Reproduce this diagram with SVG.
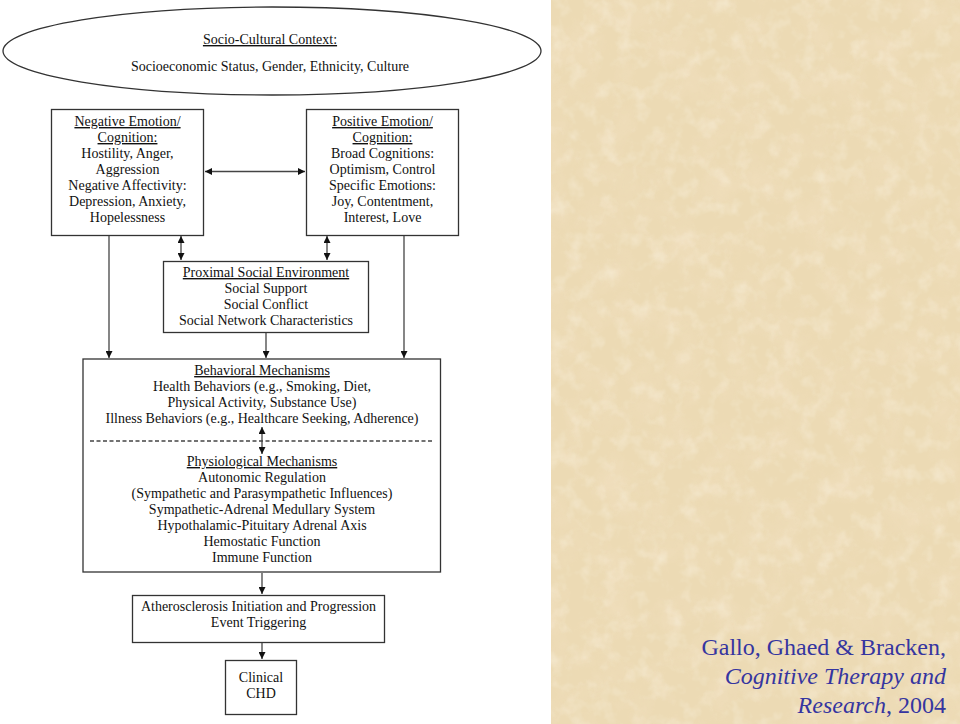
<svg xmlns="http://www.w3.org/2000/svg" width="960" height="724" viewBox="0 0 960 724">
<defs>
<style>
.box{fill:#fff;stroke:#333;stroke-width:1.3}
.t{font-family:"Liberation Serif","Times New Roman",serif;font-size:14px;fill:#111;text-anchor:middle}
.u{text-decoration:underline}
.ln{stroke:#444;stroke-width:1.3;fill:none}
.ref{font-family:"Liberation Serif","Times New Roman",serif;font-size:24px;fill:#3535a0;text-anchor:end}
</style>
<marker id="ah" viewBox="0 0 10 10" refX="10" refY="5" markerWidth="7" markerHeight="7" orient="auto-start-reverse" markerUnits="userSpaceOnUse">
<path d="M0,0 L10,5 L0,10 z" fill="#111"/>
</marker>
<filter id="paper" x="0" y="0" width="100%" height="100%">
<feTurbulence type="fractalNoise" baseFrequency="0.03" numOctaves="4" seed="7" result="n"/>
<feColorMatrix in="n" type="matrix" values="0 0 0 0 0.88  0 0 0 0 0.74  0 0 0 0 0.52  0 0 0 2 -0.85" result="c"/>
<feComposite in="c" in2="SourceGraphic" operator="in"/>
</filter>
<filter id="light" x="0" y="0" width="100%" height="100%">
<feTurbulence type="fractalNoise" baseFrequency="0.06" numOctaves="3" seed="3" result="n"/>
<feColorMatrix in="n" type="matrix" values="0 0 0 0 0.97  0 0 0 0 0.92  0 0 0 0 0.8  0 0 0 2 -0.95" result="c"/>
<feComposite in="c" in2="SourceGraphic" operator="in"/>
</filter>
</defs>
<rect width="960" height="724" fill="#fff"/>
<g id="parchment">
<rect x="551" y="0" width="409" height="724" fill="#ecdab4"/>
<rect x="551" y="0" width="409" height="724" fill="#ecdab4" filter="url(#paper)" opacity="0.7"/>
<rect x="551" y="0" width="409" height="724" fill="#ecdab4" filter="url(#light)" opacity="0.45"/>
</g>
<g id="citation">
<text class="ref" x="946" y="655">Gallo, Ghaed &amp; Bracken,</text>
<text class="ref" x="946" y="684" font-style="italic">Cognitive Therapy and</text>
<text class="ref" x="946" y="713"><tspan font-style="italic">Research</tspan>, 2004</text>
</g>
<g id="context">
<ellipse cx="272" cy="51" rx="269" ry="44" fill="#fff" stroke="#333" stroke-width="1.3"/>
<text class="t u" x="270" y="44">Socio-Cultural Context:</text>
<text class="t" x="270" y="71">Socioeconomic Status, Gender, Ethnicity, Culture</text>
</g>
<g id="negative">
<rect class="box" x="51.5" y="109.5" width="152" height="126"/>
<text class="t u" x="127.5" y="126">Negative Emotion/</text>
<text class="t u" x="127.5" y="142">Cognition:</text>
<text class="t" x="127.5" y="158">Hostility, Anger,</text>
<text class="t" x="127.5" y="174">Aggression</text>
<text class="t" x="127.5" y="190">Negative Affectivity:</text>
<text class="t" x="127.5" y="206">Depression, Anxiety,</text>
<text class="t" x="127.5" y="222">Hopelessness</text>
</g>
<g id="positive">
<rect class="box" x="306.5" y="109.5" width="152" height="126"/>
<text class="t u" x="382.5" y="126">Positive Emotion/</text>
<text class="t u" x="382.5" y="142">Cognition:</text>
<text class="t" x="382.5" y="158">Broad Cognitions:</text>
<text class="t" x="382.5" y="174">Optimism, Control</text>
<text class="t" x="382.5" y="190">Specific Emotions:</text>
<text class="t" x="382.5" y="206">Joy, Contentment,</text>
<text class="t" x="382.5" y="222">Interest, Love</text>
</g>
<g id="proximal">
<rect class="box" x="163.5" y="261.5" width="205" height="71"/>
<text class="t u" x="266" y="277">Proximal Social Environment</text>
<text class="t" x="266" y="293">Social Support</text>
<text class="t" x="266" y="309">Social Conflict</text>
<text class="t" x="266" y="325">Social Network Characteristics</text>
</g>
<g id="mechanisms">
<rect class="box" x="83" y="359" width="357.5" height="213"/>
<text class="t u" x="262" y="375">Behavioral Mechanisms</text>
<text class="t" x="262" y="391">Health Behaviors (e.g., Smoking, Diet,</text>
<text class="t" x="262" y="407">Physical Activity, Substance Use)</text>
<text class="t" x="262" y="423">Illness Behaviors (e.g., Healthcare Seeking, Adherence)</text>
<text class="t u" x="262" y="466">Physiological Mechanisms</text>
<text class="t" x="262" y="482">Autonomic Regulation</text>
<text class="t" x="262" y="498">(Sympathetic and Parasympathetic Influences)</text>
<text class="t" x="262" y="514">Sympathetic-Adrenal Medullary System</text>
<text class="t" x="262" y="530">Hypothalamic-Pituitary Adrenal Axis</text>
<text class="t" x="262" y="546">Hemostatic Function</text>
<text class="t" x="262" y="562">Immune Function</text>
</g>
<g id="atherosclerosis">
<rect class="box" x="132.5" y="595.5" width="252" height="47"/>
<text class="t" x="258.5" y="611">Atherosclerosis Initiation and Progression</text>
<text class="t" x="258.5" y="627">Event Triggering</text>
</g>
<g id="chd">
<rect class="box" x="225.5" y="660.5" width="71" height="54"/>
<text class="t" x="261" y="682">Clinical</text>
<text class="t" x="261" y="698">CHD</text>
</g>
<g id="connectors">
<line class="ln" x1="205" y1="171.5" x2="305" y2="171.5" marker-start="url(#ah)" marker-end="url(#ah)"/>
<line class="ln" x1="181" y1="236" x2="181" y2="260" marker-start="url(#ah)" marker-end="url(#ah)"/>
<line class="ln" x1="327" y1="236" x2="327" y2="260" marker-start="url(#ah)" marker-end="url(#ah)"/>
<line class="ln" x1="109" y1="236" x2="109" y2="358" marker-end="url(#ah)"/>
<line class="ln" x1="266" y1="333" x2="266" y2="358" marker-end="url(#ah)"/>
<line class="ln" x1="404" y1="236" x2="404" y2="358" marker-end="url(#ah)"/>
<line class="ln" x1="90" y1="441" x2="433" y2="441" stroke-dasharray="4,2.5"/>
<line class="ln" x1="262" y1="427" x2="262" y2="454" marker-start="url(#ah)" marker-end="url(#ah)"/>
<line class="ln" x1="262" y1="573" x2="262" y2="594" marker-end="url(#ah)"/>
<line class="ln" x1="262" y1="643" x2="262" y2="659" marker-end="url(#ah)"/>
</g>
</svg>
